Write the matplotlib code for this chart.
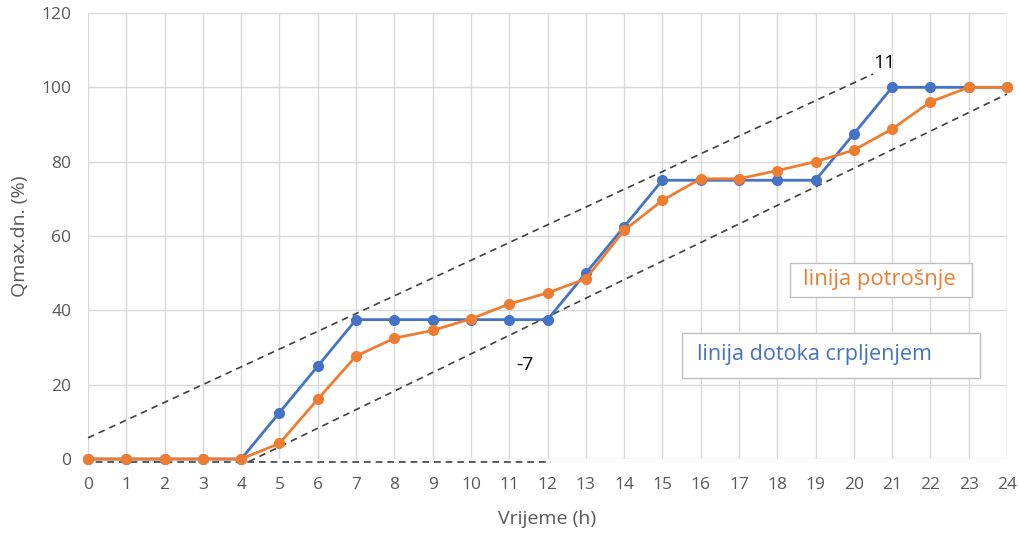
import matplotlib.pyplot as plt
from matplotlib.patches import Rectangle

hours = list(range(25))
dotok = [0, 0, 0, 0, 0, 12.5, 25, 37.5, 37.5, 37.5, 37.5, 37.5, 37.5,
         50, 62.5, 75, 75, 75, 75, 75, 87.5, 100, 100, 100, 100]
potrosnja = [0, 0, 0, 0, 0, 4.2, 16.1, 27.7, 32.5, 34.6, 37.7, 41.7, 44.7,
             48.5, 61.5, 69.6, 75.4, 75.4, 77.6, 80.0, 83.1, 88.8, 96.1, 100, 100]

# tangent lines (start/end points)
upper_x = [0, 20.5]
upper_y = [5.7, 103.6]
lower_x = [4.2, 24]
lower_y = [-0.7, 98.2]
base_x = [-0.1, 12.1]
base_y = [-0.9, -0.9]

blue = "#4472C4"
orange = "#ED7D31"
gray = "#595959"

plt.rcParams['font.family'] = ['Open Sans', 'DejaVu Sans']

fig = plt.figure(figsize=(10.19, 5.33), dpi=100)
ax = fig.add_axes([0.0864, 0.1388, 0.9018, 0.8368])

ax.plot(hours, dotok, color=blue, lw=2, marker="o", ms=7, clip_on=False, zorder=4)
ax.plot(hours, potrosnja, color=orange, lw=2, marker="o", ms=7, clip_on=False, zorder=5)

for xs, ys in [(upper_x, upper_y), (lower_x, lower_y), (base_x, base_y)]:
    ax.plot(xs, ys, color="#404040", lw=1.2, ls=(0, (4, 3)), clip_on=False, zorder=3)

ax.text(20.8, 106.5, "11", fontsize=14, ha="center", va="center", color="black")
ax.text(11.4, 25.3, "-7", fontsize=14, ha="center", va="center", color="black")

# text boxes
ax.add_patch(Rectangle((18.33, 43.6), 4.75, 9.1, fc="white", ec="#BFBFBF", lw=1, zorder=6))
ax.add_patch(Rectangle((15.5, 21.8), 7.8, 12.1, fc="white", ec="#BFBFBF", lw=1, zorder=6))
ax.text(20.68, 48.2, "linija potrošnje", fontsize=15.8, color=orange, ha="center", va="center", zorder=7)
ax.text(15.9, 28.0, "linija dotoka crpljenjem", fontsize=15.5, color=blue, ha="left", va="center", zorder=7)

ax.set_xlim(0, 24)
ax.set_ylim(0, 120)
ax.set_xticks(hours)
ax.set_yticks(range(0, 121, 20))
ax.grid(True, color="#D9D9D9", lw=1)
ax.set_axisbelow(True)
for s in ax.spines.values():
    s.set_visible(False)
ax.tick_params(length=0, labelsize=12.5, colors=gray)
ax.tick_params(axis="x", pad=13)
ax.tick_params(axis="y", pad=12)

ax.set_xlabel("Vrijeme (h)", fontsize=14, color=gray, labelpad=12)
ax.set_ylabel("Qmax.dn. (%)", fontsize=14, color=gray, labelpad=9)

fig.savefig("out.png", dpi=100)
